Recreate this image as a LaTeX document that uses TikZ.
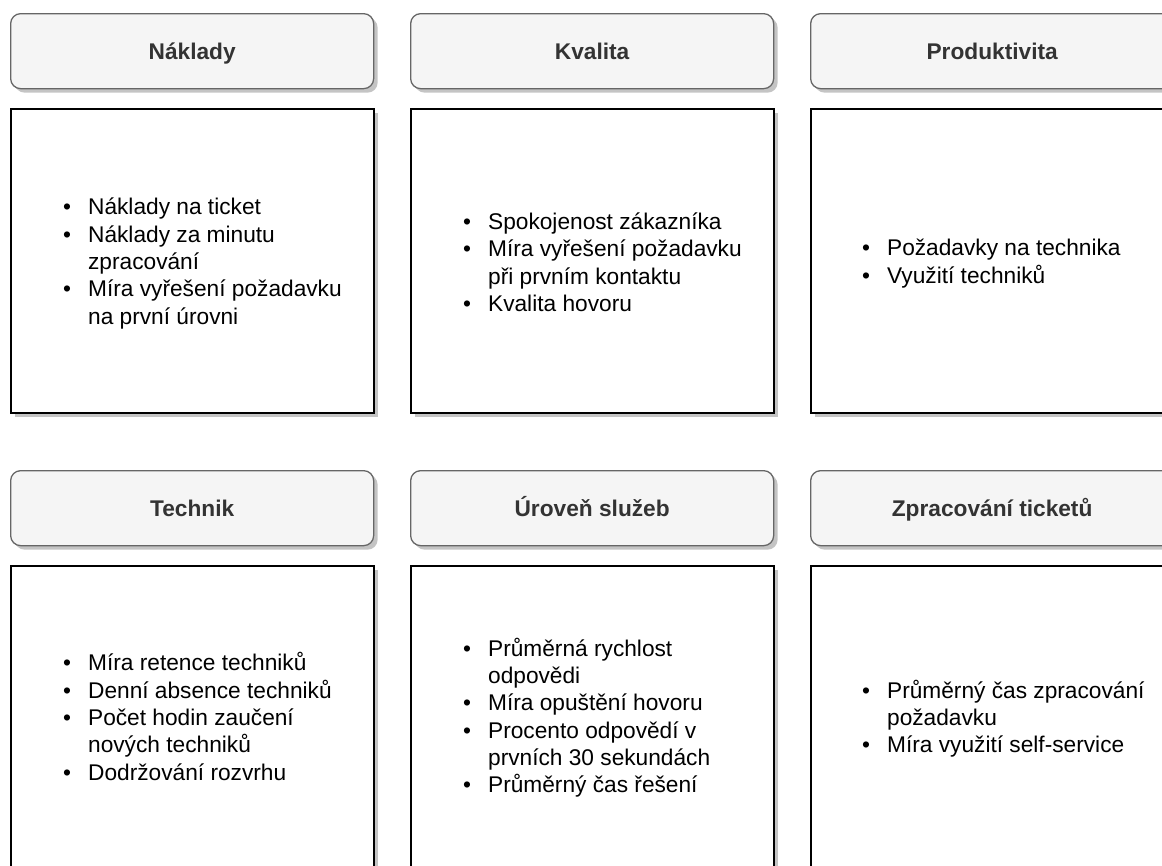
\documentclass[tikz,border=0pt]{standalone}
\usepackage{fontspec}
\setmainfont{Liberation Sans}
\usetikzlibrary{shadows}
\definecolor{hdrfill}{HTML}{F5F5F5}
\definecolor{hdrline}{HTML}{666666}
\definecolor{hdrtext}{HTML}{333333}
\definecolor{shadowgray}{HTML}{C4C4C4}
\newcommand{\bigfont}{\fontsize{22.7}{27.3}\selectfont}
\newcommand{\blist}[1]{\begin{tabular}{@{}l@{\hspace{17pt}}l@{}}#1\end{tabular}}
\newcommand{\bu}{\textbullet}
\begin{document}
\begin{tikzpicture}[x=1pt,y=-1pt,
  shadowed/.style={drop shadow={shadow xshift=4pt, shadow yshift=-4pt, fill=shadowgray, opacity=1}},
  hdr/.style={shadowed, draw=hdrline, fill=hdrfill, line width=1.3pt, rounded corners=10pt,
    minimum width=363pt, minimum height=75pt, anchor=north west, inner sep=0pt,
    text height=16pt, text depth=0pt,
    font=\bigfont\bfseries, text=hdrtext},
  body/.style={shadowed, draw=black, fill=white, line width=1.5pt,
    minimum width=363pt, minimum height=304pt, anchor=north west, inner sep=0pt},
  lst/.style={anchor=west, inner sep=0pt, font=\bigfont, text=black}]
\useasboundingbox (0,0) rectangle (1162,865);
\clip (0,0) rectangle (1162,865);
% row 1
\node[hdr] (h1) at (10,13) {Náklady};
\node[hdr] (h2) at (410,13) {Kvalita};
\node[hdr] (h3) at (810,13) {Produktivita};
\node[body] (b1) at (10,108) {};
\node[body] (b2) at (410,108) {};
\node[body] (b3) at (810,108) {};
\node[lst] (l1) at (63,264) {\blist{\bu & Náklady na ticket\\ \bu & Náklady za minutu\\ & zpracování\\ \bu & Míra vyřešení požadavku\\ & na první úrovni}};
\node[lst] (l2) at (463,265) {\blist{\bu & Spokojenost zákazníka\\ \bu & Míra vyřešení požadavku\\ & při prvním kontaktu\\ \bu & Kvalita hovoru}};
\node[lst] (l3) at (862,264) {\blist{\bu & Požadavky na technika\\ \bu & Využití techniků}};
% row 2
\node[hdr] (h4) at (10,470) {Technik};
\node[hdr] (h5) at (410,470) {Úroveň služeb};
\node[hdr] (h6) at (810,470) {Zpracování ticketů};
\node[body] (b4) at (10,565) {};
\node[body] (b5) at (410,565) {};
\node[body] (b6) at (810,565) {};
\node[lst] (l4) at (63,720) {\blist{\bu & Míra retence techniků\\ \bu & Denní absence techniků\\ \bu & Počet hodin zaučení\\ & nových techniků\\ \bu & Dodržování rozvrhu}};
\node[lst] (l5) at (463,719) {\blist{\bu & Průměrná rychlost\\ & odpovědi\\ \bu & Míra opuštění hovoru\\ \bu & Procento odpovědí v\\ & prvních 30 sekundách\\ \bu & Průměrný čas řešení}};
\node[lst] (l6) at (862,720) {\blist{\bu & Průměrný čas zpracování\\ & požadavku\\ \bu & Míra využití self-service}};
\end{tikzpicture}
\end{document}
